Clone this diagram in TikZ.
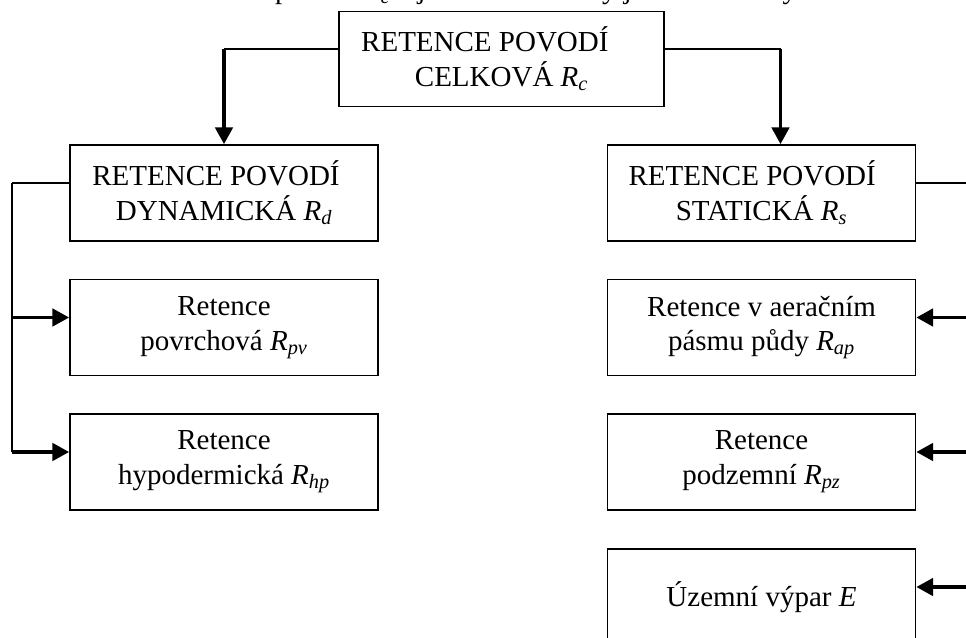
\documentclass[tikz,border=0pt]{standalone}
\usepackage{fontspec}
\setmainfont{Liberation Serif}
\usetikzlibrary{arrows.meta,calc}
\newcommand\Rsb[1]{\textit{R}\textsubscript{\itshape #1}}
\begin{document}
\begin{tikzpicture}[x=0.75pt,y=-0.75pt,
  txt/.style={font=\fontsize{21.75pt}{26pt}\selectfont},
  box/.style={txt,draw,line width=1.3pt,align=center,inner sep=0pt,
    minimum width=231pt,minimum height=72pt},
  thinline/.style={line width=1.3pt},
  vline/.style={line width=1.8pt},
  thickarrow/.style={line width=2.6pt,-{Triangle[length=12.5pt,width=13pt]}}]
\clip (0,0) rectangle (966,638);
\useasboundingbox (0,0) rectangle (966,638);
% cut-off line of running text above the figure
\node[txt,anchor=base west,inner sep=0pt] (cut) at (10,-1)
  {Vztah celkové retence povodí \Rsb{c} a jednotlivé složky je schematicky znázorněn na obr.};
% boxes
\node[box,minimum width=243.75pt,minimum height=71.25pt] (top) at (501.5,59)
  {RETENCE POVODÍ\hspace*{25pt}\\CELKOVÁ \Rsb{c}};
\node[box] (dyn) at (224,193) {RETENCE POVODÍ\hspace*{12pt}\\DYNAMICKÁ \Rsb{d}};
\node[box] (sta) at (761.5,193) {RETENCE POVODÍ\hspace*{14pt}\\STATICKÁ \Rsb{s}};
\node[box] (pv) at (224,327.5) {Retence\\povrchová \Rsb{pv}};
\node[box] (hp) at (224,462) {Retence\\hypodermická \Rsb{hp}};
\node[box] (ap) at (761.5,327.5) {Retence v aeračním\\pásmu půdy \Rsb{ap}};
\node[box] (pz) at (761.5,462) {Retence\\podzemní \Rsb{pz}};
\node[box] (ev) at (761.5,597) {Územní výpar \textit{E}};
% top connectors
\coordinate (tlo) at ($(top.west)+(0,-10)$);
\coordinate (tro) at ($(top.east)+(0,-10)$);
\coordinate (tlc) at (dyn.north |- tlo);
\coordinate (sn) at ($(sta.north)+(19,0)$);
\coordinate (trc) at (sn |- tro);
\draw[thinline] (tlo) -- (tlc);
\draw[thickarrow] (tlc) -- (dyn.north);
\draw[thinline] (tro) -- (trc);
\draw[thickarrow] (trc) -- (sn);
% left branch
\coordinate (dlo) at ($(dyn.west)+(0,-10)$);
\coordinate (dl) at ($(dlo)+(-57,0)$);
\coordinate (pvin) at ($(pv.west)+(0,-10)$);
\coordinate (hpin) at ($(hp.west)+(0,-10)$);
\coordinate (lpv) at (dl |- pvin);
\coordinate (lhp) at (dl |- hpin);
\draw[thinline] (dlo) -- (dl);
\draw[vline] (dl) -- (lhp);
\draw[thickarrow] (lpv) -- (pvin);
\draw[thickarrow] (lhp) -- (hpin);
% right branch
\coordinate (sro) at ($(sta.east)+(0,-10)$);
\coordinate (sr) at ($(sro)+(54,0)$);
\coordinate (apin) at ($(ap.east)+(0,-10)$);
\coordinate (pzin) at ($(pz.east)+(0,-10)$);
\coordinate (evin) at ($(ev.east)+(0,-10)$);
\coordinate (rap) at (sr |- apin);
\coordinate (rpz) at (sr |- pzin);
\coordinate (rev) at (sr |- evin);
\draw[thinline] (sro) -- (sr);
\draw[vline] (sr) -- (rev);
\draw[thickarrow] (rap) -- (apin);
\draw[thickarrow] (rpz) -- (pzin);
\draw[thickarrow] (rev) -- (evin);
\end{tikzpicture}
\end{document}
